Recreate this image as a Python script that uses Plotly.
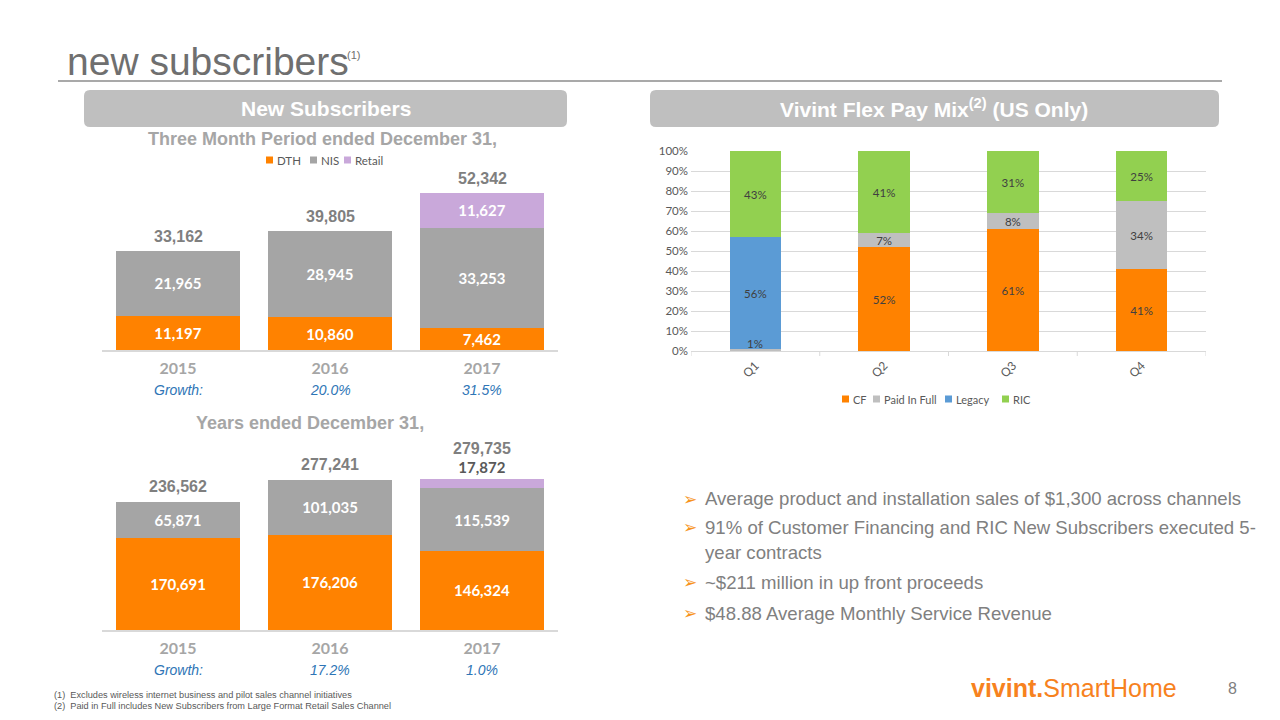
import plotly.graph_objects as go

# ---------------- data ----------------
years = ["2015", "2016", "2017"]
q_dth = [11197, 10860, 7462]
q_nis = [21965, 28945, 33253]
q_retail = [0, 0, 11627]
q_total = [33162, 39805, 52342]
q_growth = ["Growth:", "20.0%", "31.5%"]

y_dth = [170691, 176206, 146324]
y_nis = [65871, 101035, 115539]
y_retail = [0, 0, 17872]
y_total = [236562, 277241, 279735]
y_growth = ["Growth:", "17.2%", "1.0%"]

quarters = ["Q1", "Q2", "Q3", "Q4"]
mix_cf = [0, 52, 61, 41]
mix_pif = [1, 7, 8, 34]
mix_legacy = [56, 0, 0, 0]
mix_ric = [43, 41, 31, 25]
pct_ticks = list(range(0, 101, 10))

left_series = ["DTH", "NIS", "Retail"]
mix_series = ["CF", "Paid In Full", "Legacy", "RIC"]

bullets = [
    ["Average product and installation sales of $1,300 across channels"],
    ["91% of Customer Financing and RIC New Subscribers executed 5-", "year contracts"],
    ["~$211 million in up front proceeds"],
    ["$48.88 Average Monthly Service Revenue"],
]
footnotes = [
    "(1)  Excludes wireless internet business and pilot sales channel initiatives",
    "(2)  Paid in Full includes New Subscribers from Large Format Retail Sales Channel",
]

# ---------------- styles ----------------
ORANGE = "#FF8200"
GRAY = "#A5A5A5"
PURPLE = "#C9A8DA"
LGRAY = "#BFBFBF"
BLUE = "#5B9BD5"
GREEN = "#92D050"
ARIAL = "Liberation Sans, Arial, sans-serif"
CAL = "Lato, Calibri, sans-serif"
left_colors = [ORANGE, GRAY, PURPLE]
mix_colors = [ORANGE, LGRAY, BLUE, GREEN]

OFF = 8                      # page body margin
W, H = 1280 - 2 * OFF, 720 - 2 * OFF
def px(x):
    return (x - OFF) / W
def py(y):
    return 1 - (y - OFF) / H

def fmt(vals):
    return [f"<b>{v:,}</b>" if v else "" for v in vals]

def pct(vals, minv=0):
    return [f"{v}%" if v > minv else "" for v in vals]

xi = list(range(len(years)))      # positions of the year categories
qi = list(range(len(quarters)))   # positions of the quarter categories

fig = go.Figure()

bar_font = dict(family=CAL, size=15, color="white")

def left_bars(xa, ya, series, retail_pos):
    for k, (name, vals, col) in enumerate(zip(left_series, series, left_colors)):
        fig.add_trace(go.Bar(x=xi, y=vals, name=name, marker=dict(color=col, line=dict(width=0)),
                             width=0.81, text=fmt(vals),
                             textposition=retail_pos if k == 2 else "inside",
                             insidetextanchor="middle", insidetextfont=bar_font,
                             outsidetextfont=dict(family=CAL, size=15, color="#595959"),
                             constraintext="none", cliponaxis=False, xaxis=xa, yaxis=ya,
                             showlegend=False, hoverinfo="skip"))

left_bars("x", "y", [q_dth, q_nis, q_retail], "inside")
left_bars("x2", "y2", [y_dth, y_nis, y_retail], "outside")

mix_font = dict(family=CAL, size=11.5, color="#404040")
mix_vals = [mix_cf, mix_pif, mix_legacy, mix_ric]
for name, vals, col in zip(mix_series, mix_vals, mix_colors):
    fig.add_trace(go.Bar(x=qi, y=vals, name=name, marker=dict(color=col, line=dict(width=0)),
                         width=0.4, text=pct(vals, 2), textposition="inside", insidetextanchor="middle",
                         textfont=mix_font, constraintext="none", cliponaxis=False,
                         xaxis="x3", yaxis="y3", showlegend=False, hoverinfo="skip"))

# ---------------- axes ----------------
xdom = [px(102), px(558)]
def left_x(anchor):
    return dict(domain=xdom, anchor=anchor, type="linear", range=[-0.5, len(years) - 0.5],
                tickmode="array", tickvals=xi, ticktext=[f"<b>{y}</b>" for y in years],
                showgrid=False, showline=True, linecolor="#D9D9D9", linewidth=1.5, ticks="",
                tickfont=dict(family=CAL, size=16, color="#A6A6A6"), zeroline=False,
                ticklabelstandoff=3, automargin=False, fixedrange=True)

fig.update_layout(
    xaxis=left_x("y"),
    yaxis=dict(domain=[py(350), py(170)], anchor="x", range=[0, 60000], visible=False,
               automargin=False, fixedrange=True),
    xaxis2=left_x("y2"),
    yaxis2=dict(domain=[py(630), py(457)], anchor="x2", range=[0, 320000], visible=False,
                automargin=False, fixedrange=True),
    xaxis3=dict(domain=[px(691), px(1206)], anchor="y3", type="linear", range=[-0.5, len(quarters) - 0.5],
                tickmode="array", tickvals=qi, ticktext=quarters, showgrid=False,
                showline=True, linecolor="#D9D9D9", linewidth=1, ticks="", tickangle=-45,
                tickfont=dict(family=CAL, size=12, color="#595959"), zeroline=False,
                ticklabelstandoff=2, automargin=False, fixedrange=True),
    yaxis3=dict(domain=[py(351), py(151)], anchor="x3", range=[0, 100], tickmode="array",
                tickvals=pct_ticks, ticktext=[f"{v}%" for v in pct_ticks],
                showgrid=True, gridcolor="#D9D9D9", gridwidth=1, zeroline=False,
                showline=False, tickfont=dict(family=CAL, size=11.5, color="#595959"),
                ticklabelstandoff=2, automargin=False, fixedrange=True),
    barmode="stack",
    width=W, height=H, autosize=False,
    margin=dict(l=0, r=0, t=0, b=0, pad=0, autoexpand=False),
    paper_bgcolor="white", plot_bgcolor="white",
    showlegend=False,
)

annotations = []
shapes = []

def ann(x, y, text, font, xanchor="center", yanchor="middle"):
    annotations.append(dict(x=px(x), y=py(y), xref="paper", yref="paper", text=text, showarrow=False,
                            xanchor=xanchor, yanchor=yanchor, font=font))

# small labels that do not fit in their segment (placed just above the segment base)
for i, v in zip(qi, mix_pif):
    if 0 < v <= 2:
        annotations.append(dict(x=i, y=mix_cf[i], xref="x3", yref="y3", text=f"{v}%", showarrow=False,
                                xanchor="center", yanchor="bottom", yshift=-1, font=mix_font))

# small tick marks between quarter categories (boundaries)
for b in [i - 0.5 for i in range(len(quarters) + 1)]:
    shapes.append(dict(type="line", xref="x3", yref="paper", x0=b, x1=b, y0=py(351), y1=py(356),
                       line=dict(color="#D9D9D9", width=1)))

# legends (drawn as keys + labels)
def legend(names, colors, xs, y, size):
    for n, c, x in zip(names, colors, xs):
        shapes.append(dict(type="rect", xref="paper", yref="paper", x0=px(x), x1=px(x + 7),
                           y0=py(y + 3.5), y1=py(y - 3.5), fillcolor=c, line=dict(width=0)))
        ann(x + 9, y, n, dict(family=CAL, size=size, color="#595959"), xanchor="left")

legend(left_series, left_colors, [266, 310, 344], 160, 11.5)
legend(mix_series, mix_colors, [842, 873, 945, 1002], 399, 11)

# totals above bars
for i, tot in zip(xi, q_total):
    annotations.append(dict(x=i, y=tot, xref="x", yref="y", text=f"<b>{tot:,}</b>", showarrow=False,
                            xanchor="center", yanchor="bottom", yshift=4,
                            font=dict(family=ARIAL, size=16, color="#7F7F7F")))
for i, tot in zip(xi, y_total):
    annotations.append(dict(x=i, y=tot, xref="x2", yref="y2", text=f"<b>{tot:,}</b>", showarrow=False,
                            xanchor="center", yanchor="bottom", yshift=20 if y_retail[i] else 5,
                            font=dict(family=ARIAL, size=16, color="#7F7F7F")))

# growth rows
for i, g in zip(xi, q_growth):
    annotations.append(dict(x=i, y=py(390), xref="x", yref="paper", text=f"<i>{g}</i>", showarrow=False,
                            xanchor="center", yanchor="middle", font=dict(family=ARIAL, size=14, color="#2E75B6")))
for i, g in zip(xi, y_growth):
    annotations.append(dict(x=i, y=py(670), xref="x2", yref="paper", text=f"<i>{g}</i>", showarrow=False,
                            xanchor="center", yanchor="middle", font=dict(family=ARIAL, size=14, color="#2E75B6")))

# chart titles
ann(322, 139, "<b>Three Month Period ended December 31,</b>", dict(family=ARIAL, size=18, color="#A6A6A6"))
ann(310, 423, "<b>Years ended December 31,</b>", dict(family=ARIAL, size=18, color="#A6A6A6"))

# slide title
ann(65, 61, "new subscribers", dict(family=ARIAL, size=39, color="#6F6F6F"), xanchor="left")
ann(345, 55, "(1)", dict(family=ARIAL, size=11, color="#6F6F6F"), xanchor="left")
shapes.append(dict(type="line", xref="paper", yref="paper", x0=px(58), x1=px(1222), y0=py(81), y1=py(81),
                   line=dict(color="#8C8C8C", width=1.5)))

# header boxes (rounded)
def rounded(x0, y0, x1, y1, r=6):
    rx, ry = r / W, r / H
    X0, X1, Y0, Y1 = px(x0), px(x1), py(y1), py(y0)
    return (f"M {X0+rx},{Y0} L {X1-rx},{Y0} Q {X1},{Y0} {X1},{Y0+ry} L {X1},{Y1-ry} "
            f"Q {X1},{Y1} {X1-rx},{Y1} L {X0+rx},{Y1} Q {X0},{Y1} {X0},{Y1-ry} "
            f"L {X0},{Y0+ry} Q {X0},{Y0} {X0+rx},{Y0} Z")

for (x0, x1) in [(84, 567), (650, 1219)]:
    shapes.append(dict(type="path", xref="paper", yref="paper", path=rounded(x0, 90, x1, 127),
                       fillcolor="#BFBFBF", line=dict(width=0), layer="below"))
ann(326, 108, "<b>New Subscribers</b>", dict(family=ARIAL, size=21, color="white"))
ann(934, 108, "<b>Vivint Flex Pay Mix<sup>(2)</sup> (US Only)</b>", dict(family=ARIAL, size=21, color="white"))

# bullets
ys = [[499], [527, 552], [582], [613]]
for lines, yl in zip(bullets, ys):
    ann(690, yl[0], "➢", dict(family="DejaVu Sans", size=17, color="#F7941D"))
    for t, yy in zip(lines, yl):
        ann(703, yy, t, dict(family=ARIAL, size=18.6, color="#808080"), xanchor="left")

# footnotes
for t, yy in zip(footnotes, [695, 706]):
    ann(52, yy, t, dict(family=ARIAL, size=9.2, color="#595959"), xanchor="left")

# logo and page number
ann(969, 688, "<b>vivint.</b>SmartHome", dict(family=ARIAL, size=25, color="#F7821E"), xanchor="left")
ann(1232, 688, "8", dict(family=ARIAL, size=16, color="#7F7F7F"))

fig.update_layout(annotations=annotations, shapes=shapes)
fig.write_html("out.html")
